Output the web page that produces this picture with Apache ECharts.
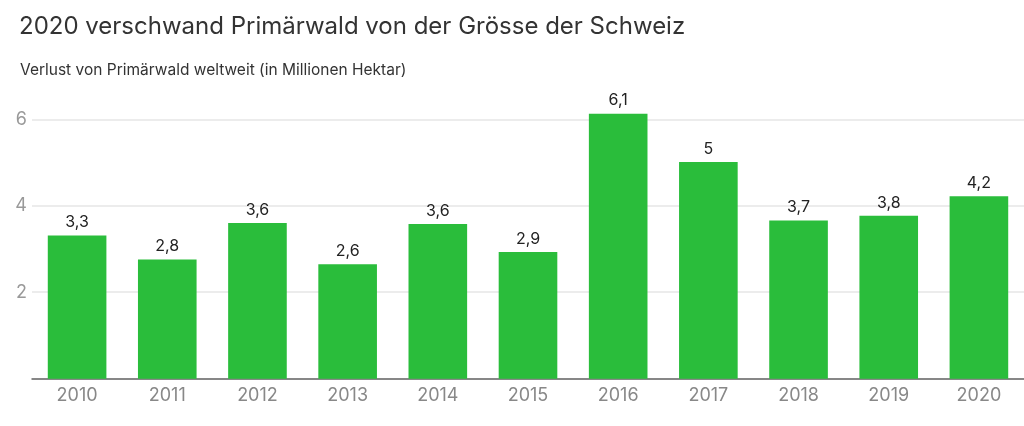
<!DOCTYPE html>
<html><head><meta charset="utf-8">
<script src="https://cdn.jsdelivr.net/npm/echarts@6/dist/echarts.min.js"></script>
<style>html,body{margin:0;padding:0;background:#fff}#c{width:1024px;height:426px}</style>
</head><body><div id="c"></div>
<script>
const titleText = "2020 verschwand Primärwald von der Grösse der Schweiz";
const subtitleText = "Verlust von Primärwald weltweit (in Millionen Hektar)";
const years = ["2010","2011","2012","2013","2014","2015","2016","2017","2018","2019","2020"];
const loss = [3.31, 2.76, 3.6, 2.65, 3.58, 2.93, 6.13, 5.01, 3.66, 3.77, 4.22];
const yTicks = [2, 4, 6];

const fmt = v => { let s = v.toFixed(1); if (s.endsWith(".0")) s = s.slice(0, -2); return s.replace(".", ","); };

const chart = echarts.init(document.getElementById('c'), null, {renderer: 'canvas'});
chart.setOption({
  animation: false,
  textStyle: {fontFamily: "Inter, 'Noto Sans', sans-serif"},
  title: [
    {text: titleText, left: 14, top: 10, textStyle: {fontSize: 24, fontWeight: 'normal', color: '#333', fontFamily: "Inter, sans-serif"}},
    {text: subtitleText, left: 15, top: 57, textStyle: {fontSize: 15.5, fontWeight: 'normal', color: '#333', fontFamily: "Inter, sans-serif"}}
  ],
  grid: {left: 32, right: -10, top: 119.3, bottom: 47.3, containLabel: false},
  xAxis: {
    type: 'category', data: years,
    axisLine: {lineStyle: {color: '#666', width: 1.5}},
    axisTick: {show: false},
    axisLabel: {color: '#888', fontSize: 18, margin: 8}
  },
  yAxis: {
    type: 'value', min: 0, max: 6, interval: 2,
    axisLine: {show: false}, axisTick: {show: false},
    splitLine: {lineStyle: {color: '#e6e6e6', width: 1.5}},
    axisLabel: {color: '#999', fontSize: 18, margin: 5,
      formatter: v => yTicks.includes(v) ? String(v) : ''}
  },
  series: [{
    type: 'bar', data: loss, barWidth: '65%', clip: false,
    itemStyle: {color: '#2abd3b'},
    label: {show: true, position: 'top', distance: 5, color: '#222', fontSize: 16, formatter: p => fmt(p.value)}
  }]
});
</script></body></html>
